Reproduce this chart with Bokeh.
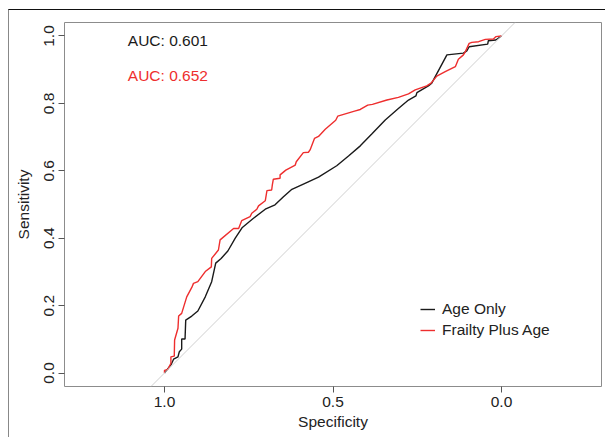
from bokeh.plotting import figure
from bokeh.models import Range1d, FixedTicker, PrintfTickFormatter, Slope, Legend, LegendItem
from bokeh.core.properties import value
from bokeh.embed import file_html
from bokeh.resources import INLINE

# ---- data ----
series_names = ["Age Only", "Frailty Plus Age"]

age_spec = [1.000, 0.981, 0.973, 0.960, 0.956, 0.949, 0.949, 0.939, 0.937, 0.919,
            0.901, 0.879, 0.860, 0.848, 0.832, 0.812, 0.790, 0.769, 0.736, 0.701,
            0.672, 0.647, 0.622, 0.583, 0.543, 0.489, 0.454, 0.419, 0.385, 0.345,
            0.306, 0.276, 0.254, 0.251, 0.217, 0.207, 0.162, 0.113, 0.103, 0.096,
            0.041, 0.039, 0.017, 0.000]
age_sens = [0.000, 0.024, 0.041, 0.048, 0.063, 0.071, 0.101, 0.101, 0.157, 0.169,
            0.184, 0.226, 0.271, 0.326, 0.340, 0.362, 0.400, 0.432, 0.459, 0.486,
            0.499, 0.523, 0.545, 0.563, 0.581, 0.615, 0.644, 0.674, 0.709, 0.751,
            0.785, 0.810, 0.822, 0.832, 0.852, 0.860, 0.944, 0.949, 0.956, 0.968,
            0.976, 0.986, 0.988, 1.000]

frailty_spec = [1.000, 1.000, 0.990, 0.981, 0.981, 0.971, 0.970, 0.960, 0.958, 0.949,
                0.934, 0.919, 0.914, 0.901, 0.879, 0.861, 0.860, 0.840, 0.835, 0.795,
                0.780, 0.771, 0.746, 0.741, 0.726, 0.721, 0.701, 0.696, 0.682, 0.680,
                0.677, 0.657, 0.657, 0.640, 0.612, 0.609, 0.588, 0.573, 0.568, 0.555,
                0.543, 0.523, 0.492, 0.486, 0.436, 0.419, 0.397, 0.383, 0.340, 0.306,
                0.276, 0.256, 0.237, 0.222, 0.209, 0.192, 0.167, 0.137, 0.128, 0.113,
                0.108, 0.096, 0.088, 0.068, 0.048, 0.024, 0.017, 0.000]
frailty_sens = [0.000, 0.008, 0.011, 0.029, 0.048, 0.050, 0.098, 0.133, 0.169, 0.177,
                0.226, 0.254, 0.266, 0.271, 0.301, 0.315, 0.340, 0.365, 0.395, 0.429,
                0.429, 0.452, 0.464, 0.474, 0.486, 0.496, 0.511, 0.541, 0.543, 0.558,
                0.575, 0.578, 0.588, 0.602, 0.617, 0.627, 0.654, 0.655, 0.662, 0.696,
                0.702, 0.723, 0.750, 0.762, 0.777, 0.782, 0.795, 0.797, 0.810, 0.818,
                0.828, 0.840, 0.847, 0.852, 0.860, 0.881, 0.894, 0.909, 0.931, 0.944,
                0.952, 0.978, 0.981, 0.983, 0.990, 0.991, 0.998, 1.000]

auc_text = ["AUC: 0.601", "AUC: 0.652"]
x_ticks = [1.0, 0.5, 0.0]
y_ticks = [0.0, 0.2, 0.4, 0.6, 0.8, 1.0]

# ---- annotation positions / styles ----
auc_x = [0.99, 0.99]
auc_y = [0.986, 0.882]
FONT = "Liberation Sans"
FS = "15.5px"
BLACK = "#1a1a1a"
RED = "#ee2e2e"

p = figure(width=597, height=428, output_backend="svg", toolbar_location=None,
           title=None,
           x_range=Range1d(1.2967, -0.2967), y_range=Range1d(-0.04, 1.04),
           min_border_left=55, min_border_right=5, min_border_top=12, min_border_bottom=52)
p.margin = (9, 0, 0, 8)
p.styles = {"border-top": "1px solid #111111", "border-left": "1px solid #888888"}

p.xgrid.visible = False
p.ygrid.visible = False
p.background_fill_color = "white"
p.border_fill_color = "white"
p.outline_line_color = "#8c8c8c"
p.outline_line_width = 1

p.add_layout(Slope(gradient=-1, y_intercept=1, line_color="#cfcfcf", line_width=1))

r1 = p.line(age_spec, age_sens, line_color=BLACK, line_width=1.4)
r2 = p.line(frailty_spec, frailty_sens, line_color=RED, line_width=1.4)

p.text(x=auc_x, y=auc_y, text=auc_text, text_color=[BLACK, RED],
       text_font=value(FONT), text_font_size=FS, text_align="center",
       text_baseline="alphabetic")

p.xaxis.ticker = FixedTicker(ticks=x_ticks)
p.yaxis.ticker = FixedTicker(ticks=y_ticks)
p.xaxis.formatter = PrintfTickFormatter(format="%.1f")
p.yaxis.formatter = PrintfTickFormatter(format="%.1f")
p.xaxis.axis_label = "Specificity"
p.yaxis.axis_label = "Sensitivity"
p.yaxis.major_label_orientation = "vertical"

for ax in (p.xaxis[0], p.yaxis[0]):
    ax.axis_line_color = None
    ax.major_tick_line_color = "#555555"
    ax.major_tick_out = 6
    ax.major_tick_in = 0
    ax.minor_tick_line_color = None
    ax.major_label_text_font = FONT
    ax.major_label_text_font_size = FS
    ax.major_label_text_color = "#222222"
    ax.axis_label_text_font = FONT
    ax.axis_label_text_font_size = FS
    ax.axis_label_text_font_style = "normal"
    ax.axis_label_text_color = "#222222"
p.xaxis.major_label_standoff = 4
p.xaxis.axis_label_standoff = 3
p.yaxis.major_label_standoff = 4
p.yaxis.axis_label_standoff = 10

legend = Legend(items=[LegendItem(label=series_names[0], renderers=[r1]),
                       LegendItem(label=series_names[1], renderers=[r2])],
                location=(356, 46), orientation="vertical",
                border_line_color=None, background_fill_alpha=0,
                label_text_font=FONT, label_text_font_size=FS,
                label_text_color="#222222",
                glyph_width=15, glyph_height=20, label_height=20,
                label_standoff=7, spacing=1, padding=0, margin=0)
p.add_layout(legend)

open("out.html", "w").write(file_html(p, INLINE))
